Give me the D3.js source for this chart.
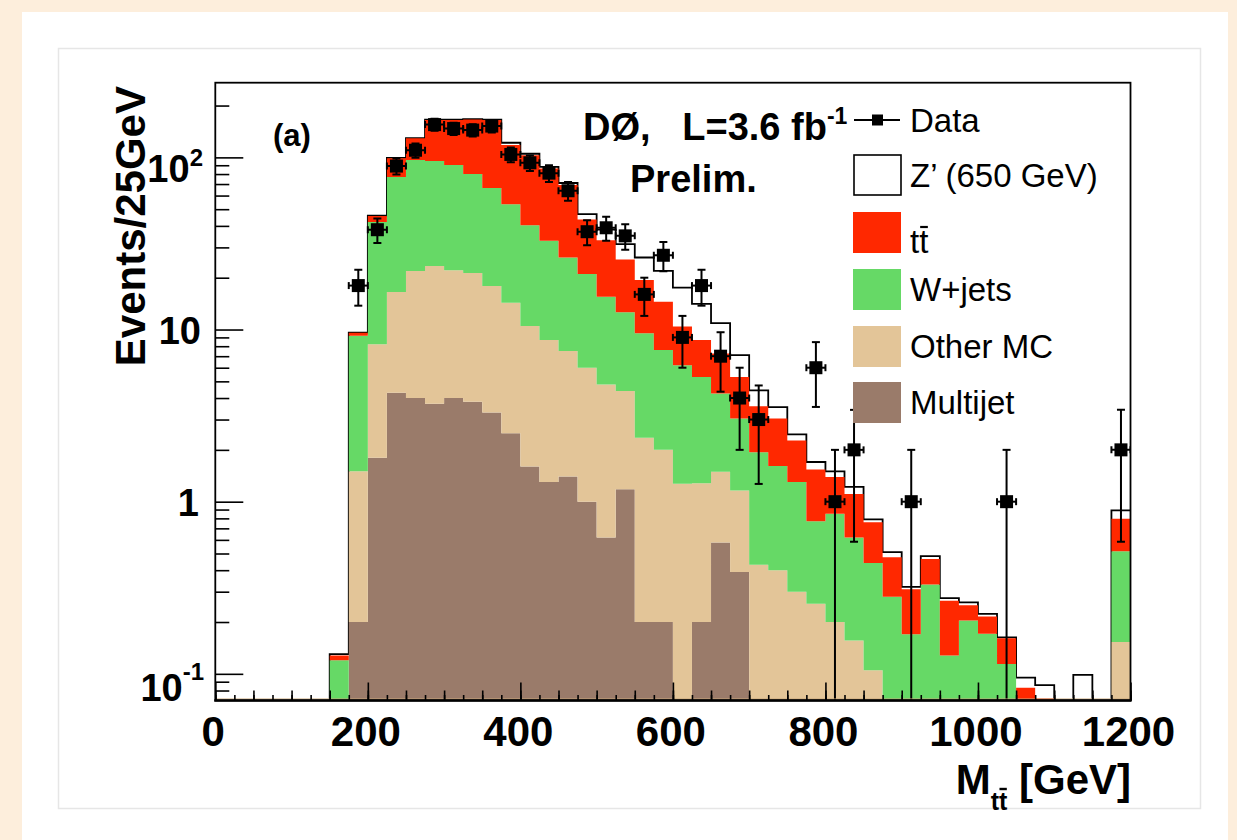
<!DOCTYPE html>
<html>
<head>
<meta charset="utf-8">
<script src="https://cdn.jsdelivr.net/npm/d3@7"></script>
<style>
  body { margin: 0; background: #fdeedc; }
  text { font-family: "Liberation Sans", Arial, Helvetica, sans-serif; }
</style>
</head>
<body>
<svg id="chart" width="1237" height="840"></svg>
<script>
// bin lower edges (GeV), 25 GeV bins
var binStart = [0, 25, 50, 75, 100, 125, 150, 175, 200, 225, 250, 275, 300, 325, 350, 375,
    400, 425, 450, 475, 500, 525, 550, 575, 600, 625, 650, 675, 700, 725, 750, 775,
    800, 825, 850, 875, 900, 925, 950, 975, 1000, 1025, 1050, 1075, 1100, 1125, 1150, 1175];

// stacked backgrounds, events per bin
var multijet = [0, 0, 0, 0, 0, 0, 0, 0.2, 1.8, 4.3, 4.0, 3.7, 4.0, 3.8, 3.3, 2.5,
    1.6, 1.3, 1.4, 1.0, 0.62, 1.18, 0.2, 0.2, 0, 0.2, 0.58, 0.39, 0, 0, 0, 0,
    0, 0, 0, 0, 0, 0, 0, 0, 0, 0, 0, 0, 0, 0, 0, 0];
var otherMC = [0, 0, 0, 0, 0, 0, 0, 1.3, 6.4, 12.2, 17.9, 19.7, 18.1, 17.5, 14.6, 11.8,
    8.9, 7.4, 6.1, 5.0, 4.18, 3.22, 2.15, 1.8, 1.27, 1.08, 0.91, 0.77, 0.43, 0.40, 0.30, 0.255,
    0.2, 0.156, 0.105, 0, 0, 0, 0, 0, 0, 0, 0, 0, 0, 0, 0, 0.153];
var wjets = [0, 0, 0, 0, 0, 0, 0.12, 7.7, 34.0, 60.5, 74.6, 71.8, 68.1, 58.7, 48.6, 39.2,
    29.9, 24.1, 18.7, 15.0, 10.7, 8.2, 7.15, 5.6, 4.93, 4.02, 2.76, 1.88, 1.51, 1.21, 1.0, 0.515,
    0.65, 0.464, 0.335, 0.28, 0.17, 0.33, 0.128, 0.204, 0.171, 0.114, 0.03, 0, 0, 0, 0, 0.363];
var ttbar = [0, 0, 0, 0, 0, 0, 0.008, 0.37, 3.4, 22, 32.5, 69.8, 74.8, 86, 98.5, 64.5,
    62.6, 53.5, 42.8, 22.6, 17.5, 12.9, 9.9, 6.9, 4.2, 3.4, 3.0, 2.26, 1.64, 1.43, 0.97, 0.77,
    0.54, 0.49, 0.32, 0.196, 0.14, 0.135, 0.138, 0.046, 0.044, 0.047, 0.053, 0.072, 0, 0, 0, 0.28];
// Z' (650 GeV) signal stacked on top of the backgrounds
var zprime = [0, 0, 0, 0, 0, 0, 0.002, 0.03, 0.2, 0.3, 0.5, 0.5, 0.5, 0.5, 0.5, 3.6,
    2, 1.7, 2, 3.2, 5, 5.8, 6.8, 7.4, 7.1, 5.4, 3.65, 1.8, 0.85, 0.5, 0.19, 0.16,
    0.11, 0.11, 0.029, 0.033, 0.01, 0.018, 0.009, 0.01, 0.008, 0.002, 0.012, 0.014, 0, 0.0986, 0, 0.094];
// observed events
var dataCounts = [0, 0, 0, 0, 0, 0, 0, 18, 38, 89, 110, 155, 147, 144, 152, 104,
    93, 81, 64, 37, 39, 35, 16, 27, 9, 18, 7, 4, 3, 0, 0, 6,
    1, 2, 0, 0, 1, 0, 0, 0, 0, 1, 0, 0, 0, 0, 0, 2];

var xMajor = [0, 200, 400, 600, 800, 1000, 1200];
var yMajor = [0.1, 1, 10, 100];
var yMinor = [0.08, 0.09, 0.2, 0.3, 0.4, 0.5, 0.6, 0.7, 0.8, 0.9, 2, 3, 4, 5, 6, 7, 8, 9,
    20, 30, 40, 50, 60, 70, 80, 90, 200];

var colors = { multijet: "#9a7b6a", other: "#e3c598", wjets: "#66d966", ttbar: "#ff2800" };

var svg = d3.select("#chart");

// page / card background
svg.append("rect").attr("width", 1237).attr("height", 840).attr("fill", "#fdeedc");
svg.append("rect").attr("x", 22).attr("y", 12).attr("width", 1206).attr("height", 840).attr("fill", "#ffffff");
svg.append("rect").attr("x", 58.5).attr("y", 48.5).attr("width", 1142).attr("height", 760)
    .attr("fill", "#ffffff").attr("stroke", "#e6e6e6").attr("stroke-width", 1.5);

// plot frame
var pLeft = 215.3, pRight = 1130.5, pTop = 82.7, pBottom = 700.5;
var x = d3.scaleLinear().domain([0, 1200]).range([pLeft, pRight]);
var y = d3.scaleLog().domain([0.07, 271.5]).range([pBottom, pTop]);
var yc = function (v) { return y(Math.max(v, 0.05)); };

svg.append("clipPath").attr("id", "plotclip")
    .append("rect").attr("x", pLeft).attr("y", pTop).attr("width", pRight - pLeft).attr("height", pBottom - pTop);

var plot = svg.append("g").attr("clip-path", "url(#plotclip)");

// Build per-bin records and stack them
var bins = binStart.map(function (b, i) {
    return { lo: b, multijet: multijet[i], other: otherMC[i], wjets: wjets[i], ttbar: ttbar[i], zprime: zprime[i] };
});
var layers = d3.stack().keys(["multijet", "other", "wjets", "ttbar"])(bins);

// Z' outline is drawn first; the stack hides it where it adds nothing
var zline = bins.map(function (d) {
    return { lo: d.lo, v: d.multijet + d.other + d.wjets + d.ttbar + d.zprime };
});
zline.push({ lo: 1200, v: zline[zline.length - 1].v });
plot.append("path")
    .datum(zline)
    .attr("fill", "none")
    .attr("stroke", "#000")
    .attr("stroke-width", 1.8)
    .attr("d", d3.line().curve(d3.curveStepAfter)
        .x(function (d) { return x(d.lo); })
        .y(function (d) { return yc(d.v); }));

var area = d3.area().curve(d3.curveStepAfter)
    .x(function (d) { return x(d.lo); })
    .y0(function (d) { return yc(d.y0); })
    .y1(function (d) { return yc(d.y1); });

layers.forEach(function (layer) {
    var pts = layer.map(function (d, i) { return { lo: binStart[i], y0: d[0], y1: d[1] }; });
    var last = pts[pts.length - 1];
    pts.push({ lo: 1200, y0: last.y0, y1: last.y1 });
    plot.append("path")
        .datum(pts)
        .attr("fill", colors[layer.key])
        .attr("stroke", "none")
        .attr("d", area);
});

// thin zero-level line of the stack
svg.append("line").attr("x1", x(0)).attr("x2", x(1200)).attr("y1", pBottom - 1.5).attr("y2", pBottom - 1.5)
    .attr("stroke", "#c9a77a").attr("stroke-width", 1.2);

// Data points with sqrt(N) errors
var points = dataCounts.map(function (n, i) { return { c: binStart[i] + 12.5, n: n }; })
    .filter(function (d) { return d.n > 0; });
var pg = plot.append("g").attr("stroke", "#000").attr("stroke-width", 2);
points.forEach(function (d) {
    var err = Math.sqrt(d.n);
    var yHi = y(d.n + err), yLo = yc(d.n - err), yMid = y(d.n);
    var xl = x(d.c - 12.5), xr = x(d.c + 12.5), xm = x(d.c);
    pg.append("line").attr("x1", xm).attr("x2", xm).attr("y1", yHi).attr("y2", yLo);
    pg.append("line").attr("x1", xm - 4).attr("x2", xm + 4).attr("y1", yHi).attr("y2", yHi);
    if (d.n - err > 0.07) {
        pg.append("line").attr("x1", xm - 4).attr("x2", xm + 4).attr("y1", yLo).attr("y2", yLo);
    }
    pg.append("line").attr("x1", xl).attr("x2", xr).attr("y1", yMid).attr("y2", yMid);
    pg.append("line").attr("x1", xl).attr("x2", xl).attr("y1", yMid - 3.5).attr("y2", yMid + 3.5);
    pg.append("line").attr("x1", xr).attr("x2", xr).attr("y1", yMid - 3.5).attr("y2", yMid + 3.5);
    pg.append("rect").attr("x", xm - 6.5).attr("y", yMid - 6.5).attr("width", 13).attr("height", 13)
        .attr("fill", "#000").attr("stroke", "none");
});

// Axes: ticks drawn inward, ROOT style
function xTicks(vals, len) {
    svg.append("g").attr("transform", "translate(0," + pBottom + ")")
        .call(d3.axisBottom(x).tickValues(vals).tickSize(-len).tickFormat(""))
        .call(function (g) { g.select(".domain").remove(); })
        .selectAll("line").attr("stroke", "#000").attr("stroke-width", 1.6);
}
xTicks(d3.range(0, 1201, 25), 5.5);
xTicks(d3.range(0, 1201, 50), 10);
xTicks(xMajor, 18);

function yTicks(vals, len) {
    svg.append("g").attr("transform", "translate(" + pLeft + ",0)")
        .call(d3.axisLeft(y).tickValues(vals).tickSize(-len).tickFormat(""))
        .call(function (g) { g.select(".domain").remove(); })
        .selectAll("line").attr("stroke", "#000").attr("stroke-width", 1.6);
}
yTicks(yMinor, 14);
yTicks(yMajor, 28);

// frame
svg.append("rect").attr("x", pLeft).attr("y", pTop).attr("width", pRight - pLeft).attr("height", pBottom - pTop)
    .attr("fill", "none").attr("stroke", "#000").attr("stroke-width", 1.8);
svg.append("line").attr("x1", pLeft - 1).attr("x2", pRight + 1).attr("y1", pBottom).attr("y2", pBottom)
    .attr("stroke", "#000").attr("stroke-width", 2.6);

// x tick labels
svg.append("g").selectAll("text").data(xMajor).enter().append("text")
    .attr("x", function (d) { return x(d) - 2; })
    .attr("y", 746)
    .attr("text-anchor", "middle")
    .attr("font-size", 42).attr("font-weight", "bold")
    .text(function (d) { return d; });

// y tick labels (10^n style)
function yLabel(v, base, sup, xEnd, dy, supDy) {
    var t = svg.append("text").attr("x", xEnd).attr("y", y(v) + dy)
        .attr("text-anchor", "end").attr("font-weight", "bold").attr("font-size", 38);
    t.append("tspan").text(base);
    if (sup) {
        t.append("tspan").attr("font-size", 24).attr("dy", supDy).text(sup);
    }
}
yLabel(100, "10", "2", 203, 25, -16);
yLabel(10, "10", null, 201, 14, 0);
yLabel(1, "1", null, 199, 14, 0);
yLabel(0.1, "10", "-1", 204, 27, -21);

// axis titles
svg.append("text")
    .attr("transform", "translate(145,86) rotate(-90)")
    .attr("text-anchor", "end")
    .attr("font-size", 42).attr("font-weight", "bold")
    .text("Events/25GeV");

var xt = svg.append("text").attr("x", 1131).attr("y", 794)
    .attr("text-anchor", "end").attr("font-size", 42).attr("font-weight", "bold");
xt.append("tspan").text("M");
xt.append("tspan").attr("font-size", 25).attr("dy", 16).text("tt");
xt.append("tspan").attr("dy", -16).style("white-space", "pre").text(" [GeV]");
var xtNode = xt.node();
var tb0 = xtNode.getStartPositionOfChar(2), tb1 = xtNode.getEndPositionOfChar(2);
svg.append("line").attr("x1", tb0.x + 0.5).attr("x2", tb1.x - 0.5).attr("y1", 789).attr("y2", 789)
    .attr("stroke", "#000").attr("stroke-width", 2.4);

// annotations
svg.append("text").attr("x", 273).attr("y", 146).attr("font-size", 31).attr("font-weight", "bold").text("(a)");
var lum = svg.append("text").attr("x", 583).attr("y", 140).attr("font-size", 38).attr("font-weight", "bold")
    .style("white-space", "pre");
lum.append("tspan").text("DØ,   L=3.6 fb");
lum.append("tspan").attr("font-size", 23).attr("dy", -16).text("-1");
svg.append("text").attr("x", 630).attr("y", 192).attr("font-size", 38).attr("font-weight", "bold").text("Prelim.");

// legend
var legendItems = [
    { label: "Data", type: "data", y: 120 },
    { label: "Z\u2019 (650 GeV)", type: "open", y: 175 },
    { label: "tt", type: "ttbar", y: 232 },
    { label: "W+jets", type: "wjets", y: 289 },
    { label: "Other MC", type: "other", y: 346 },
    { label: "Multijet", type: "multijet", y: 402 }
];
var lg = svg.append("g");
legendItems.forEach(function (it) {
    if (it.type === "data") {
        lg.append("line").attr("x1", 854).attr("x2", 900).attr("y1", it.y).attr("y2", it.y)
            .attr("stroke", "#000").attr("stroke-width", 2);
        lg.append("rect").attr("x", 872).attr("y", it.y - 5.5).attr("width", 11).attr("height", 11).attr("fill", "#000");
    } else if (it.type === "open") {
        lg.append("rect").attr("x", 854).attr("y", it.y - 20).attr("width", 47).attr("height", 40)
            .attr("fill", "#fff").attr("stroke", "#000").attr("stroke-width", 1.6);
    } else {
        lg.append("rect").attr("x", 853).attr("y", it.y - 20).attr("width", 48).attr("height", 41)
            .attr("fill", colors[it.type]);
    }
    var ty = it.type === "ttbar" ? it.y + 21 : it.y + 12;
    var t = lg.append("text").attr("x", 910).attr("y", ty).attr("font-size", 33).text(it.label);
    if (it.type === "ttbar") {
        var n = t.node();
        var a = n.getStartPositionOfChar(1), b = n.getEndPositionOfChar(1);
        lg.append("line").attr("x1", a.x + 1).attr("x2", b.x - 0.5).attr("y1", ty - 26).attr("y2", ty - 26)
            .attr("stroke", "#000").attr("stroke-width", 2.2);
    }
});
</script>
</body>
</html>
